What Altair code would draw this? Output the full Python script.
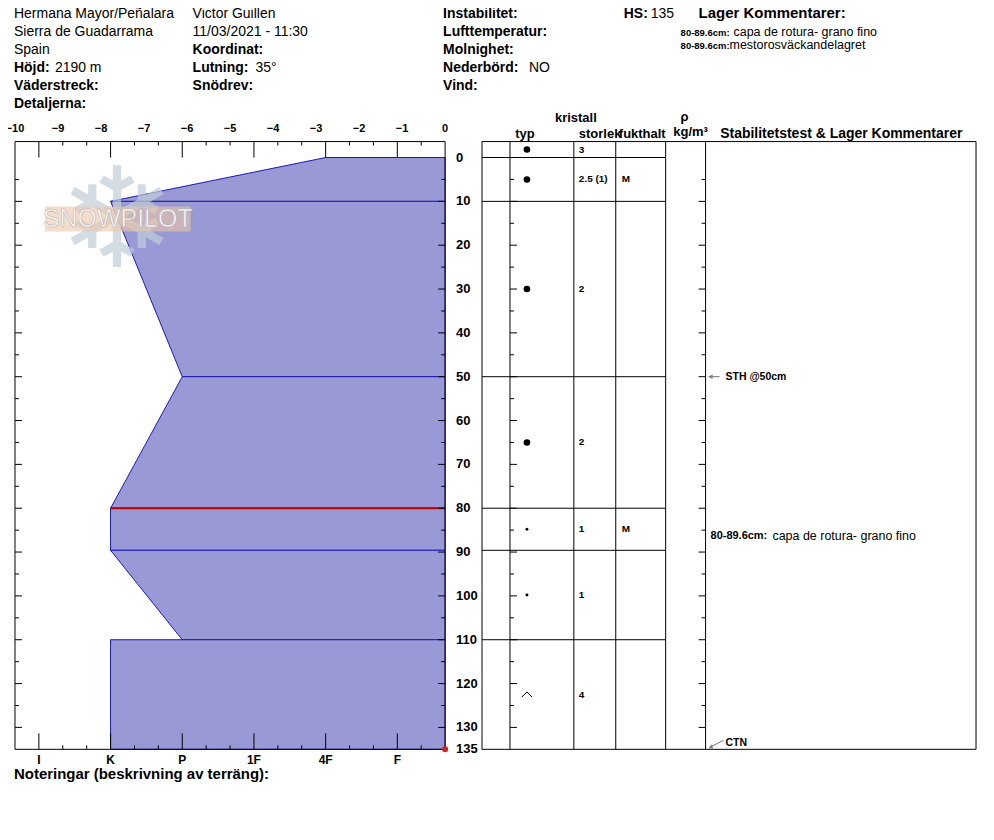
import altair as alt
import pandas as pd

FONT = "Liberation Sans"
NARROW = "Liberation Sans Narrow, Liberation Sans"

# ---------------- data ----------------
HARDNESS = ["I", "K", "P", "1F", "4F", "F"]
TEMP_LABELS = [-10, -9, -8, -7, -6, -5, -4, -3, -2, -1, 0]
DEPTH_LABELS = [0, 10, 20, 30, 40, 50, 60, 70, 80, 90, 100, 110, 120, 130, 135]
HS = 135

# hardness profile layers (cm from surface)
layer_top = [0, 10, 50, 80, 89.6, 110]
layer_bottom = [10, 50, 80, 89.6, 110, 135]
hard_top = ["4F", "K", "P", "K", "K", "K"]
hard_bottom = ["K", "P", "K", "K", "P", "K"]
weak_layer_depth = [80]
weak_layer_hard = ["K"]

# table rows
row_top = [-3.64, 0, 10, 50, 80, 89.6, 110]
row_bottom = [0, 10, 50, 80, 89.6, 110, 135]
grain = ["RG", "RG", "RG", "RG", "RGsr", "RGsr", "DH"]
grain_size = ["3", "2.5 (1)", "2", "2", "1", "1", "4"]
moisture = ["", "M", "", "", "M", "", ""]
row_lines = [0, 10, 50, 80, 89.6, 110]

# stability tests
tests = ["STH @50cm", "CTN"]
test_depth = [50, 135]
layer_comment_range = "80-89.6cm:"
layer_comment_text = "capa de rotura- grano fino"
layer_comment_depth = [86.3]

header_col1 = [("", "Hermana Mayor/Peñalara"), ("", "Sierra de Guadarrama"), ("", "Spain"),
               ("Höjd:", "2190 m"), ("Väderstreck:", ""), ("Detaljerna:", "")]
header_col2 = [("", "Victor Guillen"), ("", "11/03/2021 - 11:30"), ("Koordinat:", ""),
               ("Lutning:", "35°"), ("Snödrev:", "")]
header_col3 = [("Instabilitet:", ""), ("Lufttemperatur:", ""), ("Molnighet:", ""),
               ("Nederbörd:", "NO"), ("Vind:", "")]
header_comments = [("80-89.6cm:", "capa de rotura- grano fino"),
                   ("80-89.6cm:", "mestorosväckandelagret")]

# ---------------- layout ----------------
W, H, LW = 963, 609, 431
TL, C_TYP, C_SIZE, C_MOIST, C_RHO, C_COM, TR = 468, 496, 560, 602, 652, 692, 963

xs = alt.Scale(domain=[-10, 0], range=[0, LW], nice=False, zero=False)
ys = alt.Scale(domain=[-3.64, HS], reverse=True, nice=False, zero=False)
ONE = pd.DataFrame({"k": [0]})


def hx(code):
    return -10 + (HARDNESS.index(code) + 1 / 3) * 10 / 6


def X(field):
    return alt.X(field, scale=xs, axis=None)


def Y(field):
    return alt.Y(field, scale=ys, axis=None)


def txt(s, x, y, size=14, bold=False, align="left", baseline="alphabetic",
        color="#000000", font=FONT, **kw):
    return alt.Chart(ONE).mark_text(
        text=s, align=align, baseline=baseline, fontSize=size,
        fontWeight="bold" if bold else "normal", font=font, color=color, **kw
    ).encode(x=alt.value(x), y=alt.value(y))


def hline(x1, x2, y, color="#000000", w=1):
    return alt.Chart(ONE).mark_rule(color=color, strokeWidth=w).encode(
        x=alt.value(x1), x2=alt.value(x2), y=alt.value(y))


def vline(x, y1, y2, color="#000000", w=1):
    return alt.Chart(ONE).mark_rule(color=color, strokeWidth=w).encode(
        x=alt.value(x), y=alt.value(y1), y2=alt.value(y2))


layers = []

# hardness profile
prof_rows = []
for i in range(len(layer_top)):
    prof_rows.append({"layer": i, "depth": layer_top[i], "hx": hx(hard_top[i]), "zero": 0})
    prof_rows.append({"layer": i, "depth": layer_bottom[i], "hx": hx(hard_bottom[i]), "zero": 0})
prof = pd.DataFrame(prof_rows)
layers.append(alt.Chart(prof).mark_area(orient="horizontal", fill="#9999d6", fillOpacity=1,
                                        stroke="#1a1ab0", strokeWidth=1).encode(
    y=Y("depth:Q"), x=X("hx:Q"), x2="zero:Q", detail="layer:N"))

weak = pd.DataFrame({"depth": weak_layer_depth, "hx": [hx(h) for h in weak_layer_hard], "zero": 0})
layers.append(alt.Chart(weak).mark_rule(color="#c00000", strokeWidth=2).encode(
    y=Y("depth:Q"), x=X("hx:Q"), x2="zero:Q"))

# watermark
layers.append(txt("❄", 102, 84, size=140, baseline="middle", align="center",
                  color="#c2ced8", font="DejaVu Sans", opacity=0.7))
layers.append(alt.Chart(ONE).mark_rect(color="#ecc6a6", opacity=0.6).encode(
    x=alt.value(30), x2=alt.value(176), y=alt.value(65), y2=alt.value(90)))
layers.append(txt("SNOWPILOT", 103, 78, size=25, baseline="middle", align="center",
                  color="#ffffff", opacity=0.9, stroke="#b0b0b0", strokeWidth=0.6))

# left panel frame
layers += [hline(0, LW, 0), hline(0, LW, H), vline(0, 0, H), vline(LW, 0, H)]

# hardness ticks top/bottom
tick_df = pd.DataFrame({"t": [-10 + k * 10 / 18 for k in range(1, 18)],
                        "long": [k % 3 == 1 for k in range(1, 18)]})
long_t = tick_df[tick_df.long]
short_t = tick_df[~tick_df.long]
layers.append(alt.Chart(long_t).mark_rule(color="black").encode(x=X("t:Q"), y=alt.value(0), y2=alt.value(16)))
layers.append(alt.Chart(short_t).mark_rule(color="black").encode(x=X("t:Q"), y=alt.value(0), y2=alt.value(4)))
layers.append(alt.Chart(long_t).mark_rule(color="black").encode(x=X("t:Q"), y=alt.value(H), y2=alt.value(H - 16)))
layers.append(alt.Chart(short_t).mark_rule(color="black").encode(x=X("t:Q"), y=alt.value(H), y2=alt.value(H - 4)))

# depth ticks on vertical lines
major = pd.DataFrame({"d": list(range(10, 131, 10))})
minor = pd.DataFrame({"d": list(range(5, 131, 10))})
for px, sgn in [(0, 1), (LW, -1), (C_TYP, 1), (C_COM, -1)]:
    layers.append(alt.Chart(major).mark_rule(color="black").encode(
        y=Y("d:Q"), x=alt.value(px), x2=alt.value(px + sgn * 7)))
    layers.append(alt.Chart(minor).mark_rule(color="black").encode(
        y=Y("d:Q"), x=alt.value(px), x2=alt.value(px + sgn * 4)))

# temperature labels (top)
layers.append(alt.Chart(pd.DataFrame({"t": TEMP_LABELS})).mark_text(
    font=FONT, fontSize=11, fontWeight="bold", baseline="alphabetic", align="center").encode(
    x=X("t:Q"), y=alt.value(-10), text="t:Q"))

# hardness labels (bottom)
layers.append(alt.Chart(pd.DataFrame({"h": HARDNESS, "x": [hx(h) for h in HARDNESS]})).mark_text(
    font=FONT, fontSize=12, fontWeight="bold", baseline="middle", align="center").encode(
    x=X("x:Q"), y=alt.value(H + 11), text="h:N"))

# depth labels
layers.append(alt.Chart(pd.DataFrame({"d": DEPTH_LABELS})).mark_text(
    font=FONT, fontSize=13, fontWeight="bold", baseline="middle", align="left").encode(
    y=Y("d:Q"), x=alt.value(442), text="d:Q"))
layers.append(alt.Chart(pd.DataFrame({"d": [HS], "z": [0]})).mark_point(
    filled=True, color="#cc2222", size=36, opacity=1).encode(x=X("z:Q"), y=Y("d:Q")))

# table frame and columns
layers += [hline(TL, TR, 0), hline(TL, TR, H)]
for cx in [TL, C_TYP, C_SIZE, C_MOIST, C_RHO, C_COM, TR]:
    layers.append(vline(cx, 0, H))
layers.append(alt.Chart(pd.DataFrame({"d": row_lines})).mark_rule(color="black").encode(
    y=Y("d:Q"), x=alt.value(TL), x2=alt.value(C_RHO)))

rows = pd.DataFrame({"top": row_top, "bot": row_bottom, "grain": grain,
                     "size": grain_size, "moist": moisture})
rows["mid"] = (rows.top + rows.bot) / 2
layers.append(alt.Chart(rows[rows.grain == "RG"]).mark_point(
    filled=True, color="black", size=44, opacity=1).encode(y=Y("mid:Q"), x=alt.value(513)))
layers.append(alt.Chart(rows[rows.grain == "RGsr"]).mark_point(
    filled=True, color="black", size=9, opacity=1).encode(y=Y("mid:Q"), x=alt.value(513)))
layers.append(alt.Chart(rows[rows.grain == "DH"]).mark_point(
    shape="M-1,0.5L0,-0.5L1,0.5", filled=False, color="black", strokeWidth=1,
    size=110, opacity=1).encode(y=Y("mid:Q"), x=alt.value(513)))
layers.append(alt.Chart(rows).mark_text(font=FONT, fontSize=10, fontWeight="bold",
                                        baseline="middle", align="left").encode(
    y=Y("mid:Q"), x=alt.value(565), text="size:N"))
layers.append(alt.Chart(rows).mark_text(font=FONT, fontSize=10, fontWeight="bold",
                                        baseline="middle", align="left").encode(
    y=Y("mid:Q"), x=alt.value(608), text="moist:N"))

# column headers
layers += [
    txt("kristall", 562, -20, size=13, bold=True, align="center"),
    txt("typ", 511, -4, size=13, bold=True, align="center"),
    txt("storlek", 565, -4, size=13, bold=True),
    txt("fukthalt", C_RHO, -4, size=13, bold=True, align="right"),
    txt("ρ", 671, -21, size=13, bold=True, align="center"),
    txt("kg/m³", 677, -6, size=13, bold=True, align="center"),
    txt("Stabilitetstest & Lager Kommentarer", 828, -4, size=14, bold=True, align="center"),
]

# stability tests
tdf = pd.DataFrame({"test": tests, "d": test_depth})
sth = tdf[tdf.test.str.startswith("STH")]
ctn = tdf[tdf.test == "CTN"]
layers.append(alt.Chart(sth).mark_rule(color="#707070").encode(
    y=Y("d:Q"), x=alt.value(C_COM + 3), x2=alt.value(C_COM + 14)))
layers.append(alt.Chart(sth).mark_point(shape="triangle-left", filled=True, color="#808080",
                                        size=22, opacity=1).encode(y=Y("d:Q"), x=alt.value(C_COM + 5)))
layers.append(alt.Chart(sth).mark_text(font=FONT, fontSize=10.5, fontWeight="bold",
                                       baseline="middle", align="left").encode(
    y=Y("d:Q"), x=alt.value(C_COM + 20), text="test:N"))
layers.append(alt.Chart(ONE).mark_rule(color="#707070").encode(
    x=alt.value(C_COM + 4), x2=alt.value(C_COM + 18), y=alt.value(H - 2), y2=alt.value(H - 9)))
layers.append(alt.Chart(ONE).mark_point(shape="triangle-left", filled=True, color="#808080",
                                        size=22, angle=335, opacity=1).encode(
    x=alt.value(C_COM + 5), y=alt.value(H - 2)))
layers.append(alt.Chart(ctn).mark_text(font=FONT, fontSize=10.5, fontWeight="bold",
                                       baseline="middle", align="left").encode(
    y=alt.value(H - 6), x=alt.value(C_COM + 20), text="test:N"))

# layer comment
lc = pd.DataFrame({"d": layer_comment_depth, "r": [layer_comment_range], "t": [layer_comment_text]})
layers.append(alt.Chart(lc).mark_text(font=FONT, fontSize=11, fontWeight="bold",
                                      baseline="middle", align="left").encode(
    y=Y("d:Q"), x=alt.value(697), text="r:N"))
layers.append(alt.Chart(lc).mark_text(font=FONT, fontSize=12.5,
                                      baseline="middle", align="left").encode(
    y=Y("d:Q"), x=alt.value(759), text="t:N"))

# header block
offsets = {"Höjd:": 41, "Lutning:": 63, "Nederbörd:": 86}
for colx, col in [(-1, header_col1), (178, header_col2), (429, header_col3)]:
    for i, (lab, val) in enumerate(col):
        y = -124 + 18 * i
        if lab:
            layers.append(txt(lab, colx, y, bold=True))
        if val:
            layers.append(txt(val, colx + offsets.get(lab, 0), y))
layers.append(txt("HS:", 610, -124, bold=True))
layers.append(txt(str(HS), 637, -124))
layers.append(txt("Lager Kommentarer:", 685, -124, size=15, bold=True))
for i, (rng, t) in enumerate(header_comments):
    y = -106 + 13 * i
    layers.append(txt(rng, 667, y, size=9.5, bold=True, font=NARROW))
    layers.append(txt(t, 720 if i == 0 else 716, y, size=12.5))

layers.append(txt("Noteringar (beskrivning av terräng):", -1, H + 25, size=15, bold=True,
                  baseline="middle"))

chart = alt.layer(*layers).properties(
    width=W, height=H,
    autosize=alt.AutoSizeParams(type="none"),
    padding={"left": 7, "top": 133, "right": 10, "bottom": 80},
).configure_view(strokeWidth=0)

chart.save("out.html", embed_options={"renderer": "svg", "actions": False})
